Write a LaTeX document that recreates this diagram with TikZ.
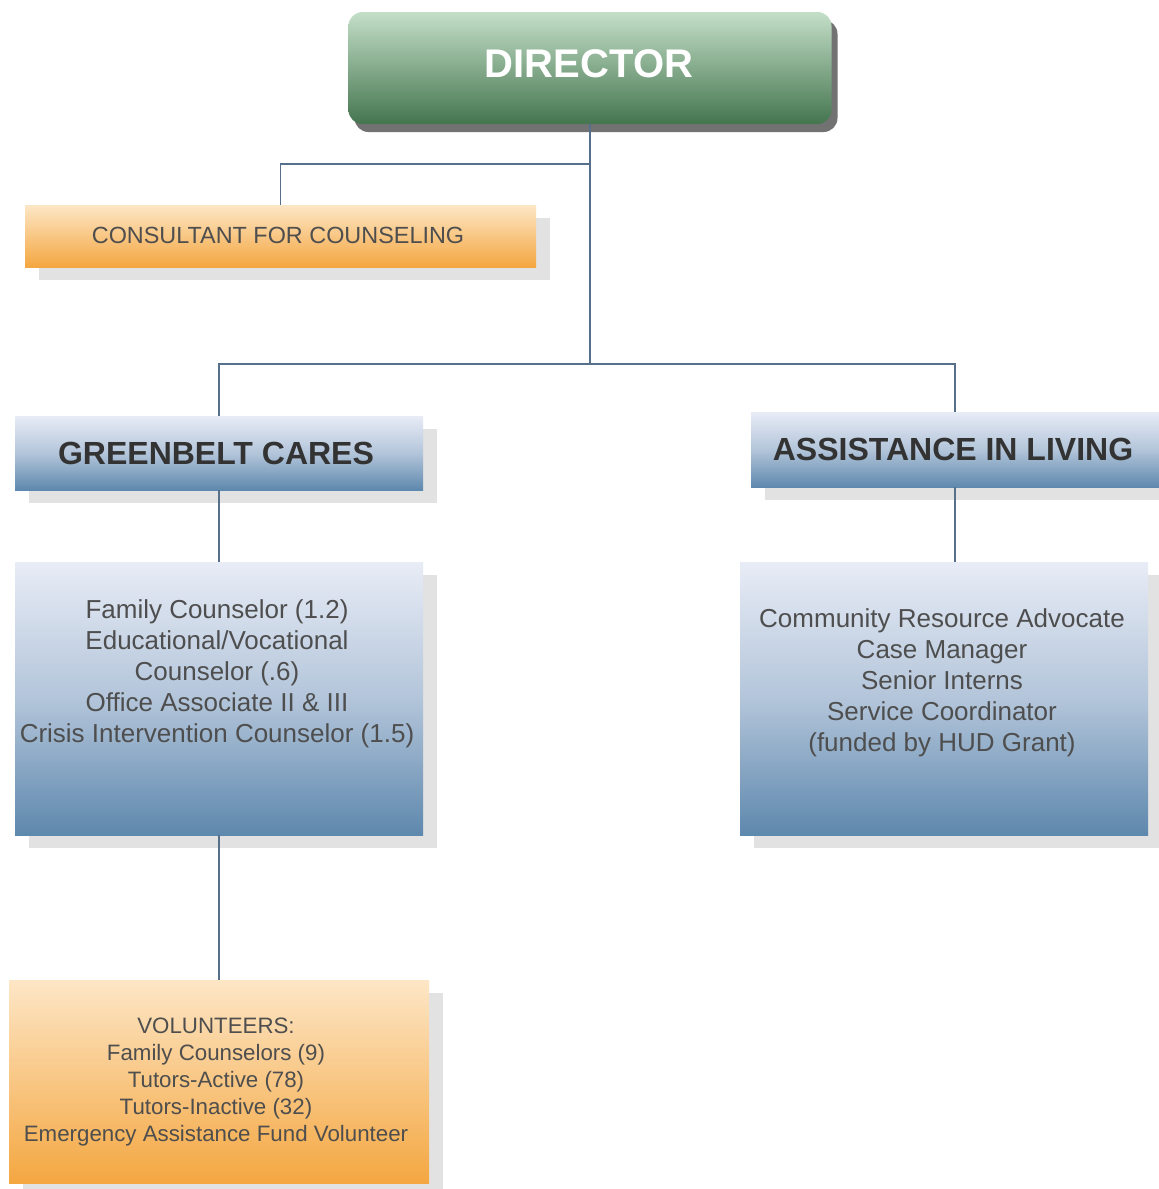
\documentclass[tikz,border=0pt]{standalone}
\usepackage{fontspec}
\setmainfont{Liberation Sans}
\usetikzlibrary{shadows}
\definecolor{conn}{HTML}{56708C}
\definecolor{shadowgray}{HTML}{E2E2E2}
\definecolor{dirshadow}{HTML}{727272}
\definecolor{greentop}{HTML}{C4DFC8}
\definecolor{greenbot}{HTML}{44754F}
\definecolor{orangetop}{HTML}{FDE6C6}
\definecolor{orangebot}{HTML}{F4A741}
\definecolor{bluetop}{HTML}{E8ECF6}
\definecolor{bluemid}{HTML}{B3C5DA}
\definecolor{bluebot}{HTML}{5E88AD}
\definecolor{titletext}{HTML}{333333}
\definecolor{bodytext}{HTML}{4E4E4E}
\begin{document}
\begin{tikzpicture}[x=1pt,y=-1pt,
  softshadow/.style={drop shadow={shadow xshift=14pt, shadow yshift=-13pt, fill=shadowgray, opacity=1}},
  dirbox/.style={rectangle, rounded corners=14pt, inner sep=0pt, top color=greentop, bottom color=greenbot,
    drop shadow={shadow xshift=6pt, shadow yshift=-8pt, fill=dirshadow, opacity=1}},
  orangebox/.style={rectangle, inner sep=0pt, top color=orangetop, bottom color=orangebot, softshadow},
  bluebox/.style={rectangle, inner sep=0pt, top color=bluetop, bottom color=bluebot, middle color=bluemid, softshadow},
  dirtext/.style={inner sep=0pt, text=white, font=\fontsize{40}{48}\selectfont\bfseries},
  titlelabel/.style={inner sep=0pt, text=titletext, font=\fontsize{32}{38}\selectfont\bfseries},
  bodylabel/.style={inner sep=0pt, text=bodytext, align=center},
  connector/.style={draw=conn, line width=1.6pt}
]
\useasboundingbox[fill=white] (0,0) rectangle (1159,1189);

% boxes
\node[dirbox, minimum width=483pt, minimum height=112pt] (dir) at (590,68) {};
\node[orangebox, minimum width=511pt, minimum height=62pt] (cons) at (280.5,236) {};
\node[bluebox, minimum width=408pt, minimum height=74pt] (gb) at (219,453) {};
\node[bluebox, minimum width=408pt, minimum height=75pt] (al) at (955,449.5) {};
\node[bluebox, minimum width=408pt, minimum height=273pt] (gbs) at (219,698.5) {};
\node[bluebox, minimum width=408pt, minimum height=273pt] (als) at (944,698.5) {};
\node[orangebox, minimum width=420pt, minimum height=203pt] (vol) at (219,1081.5) {};

% texts
\node[dirtext] (dirt) at (589,64) {DIRECTOR};
\node[bodylabel, text=bodytext, font=\fontsize{23.4}{28}\selectfont] (const) at (278,235) {CONSULTANT FOR COUNSELING};
\node[titlelabel] (gbt) at (216,453) {GREENBELT CARES};
\node[titlelabel] (alt) at (953,449) {ASSISTANCE IN LIVING};
\node[bodylabel, font=\fontsize{26}{31}\selectfont] (gbst) at (217,674)
  {Family Counselor (1.2)\\Educational/Vocational\\Counselor (.6)\\Office Associate II \& III\\Crisis Intervention Counselor (1.5)};
\node[bodylabel, font=\fontsize{26}{31}\selectfont] (alst) at (942,683)
  {Community Resource Advocate\\Case Manager\\Senior Interns\\Service Coordinator\\(funded by HUD Grant)};
\node[bodylabel, font=\fontsize{22.3}{27.2}\selectfont] (volt) at (216,1082)
  {VOLUNTEERS:\\Family Counselors (9)\\Tutors-Active (78)\\Tutors-Inactive (32)\\Emergency Assistance Fund Volunteer};

% connectors
\coordinate (j1) at (590,164);
\coordinate (j2) at (590,364);
\draw[connector] (dir.south) -- (j2);
\draw[connector] (j1) -| (cons.north);
\draw[connector] (j2) -| (gb.north);
\draw[connector] (j2) -| (al.north);
\draw[connector] (gb.south) -- (gbs.north);
\draw[connector] (al.south) -- (al.south |- als.north);
\draw[connector] (gbs.south) -- (vol.north);
\end{tikzpicture}
\end{document}
